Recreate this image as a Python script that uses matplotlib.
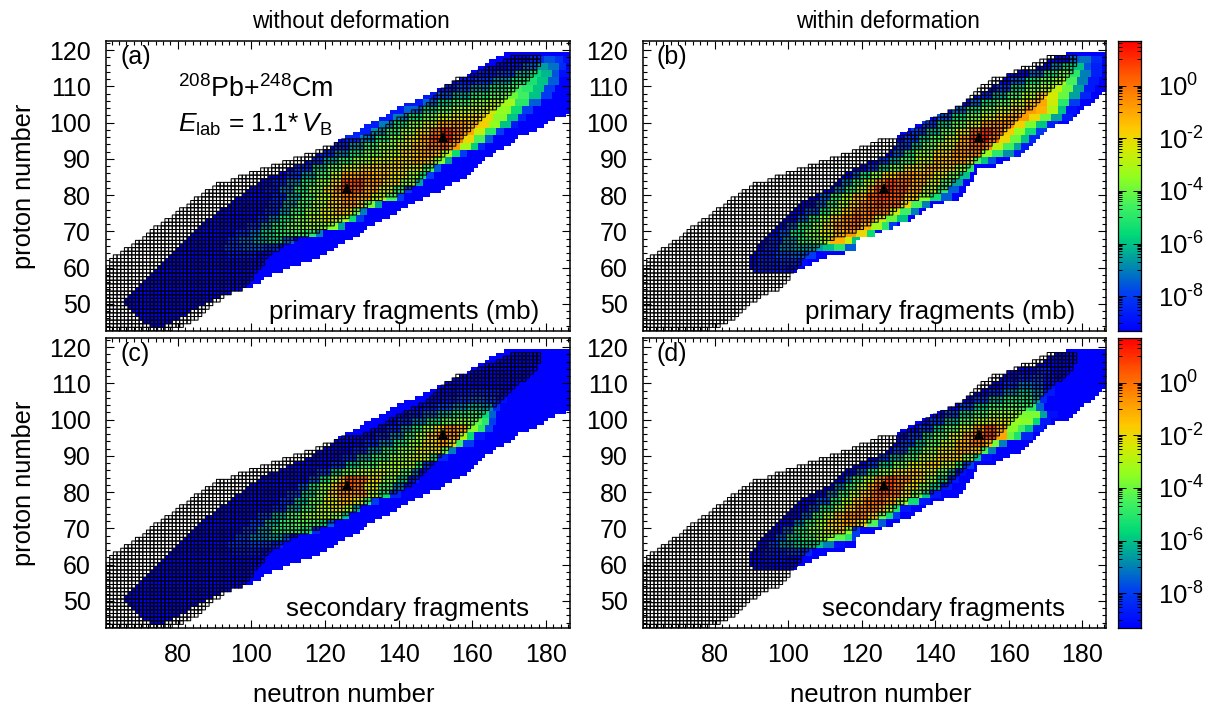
import numpy as np
import matplotlib
matplotlib.use("Agg")
import matplotlib.pyplot as plt
from matplotlib.colors import LinearSegmentedColormap, LogNorm
from matplotlib.collections import PolyCollection
from matplotlib.ticker import FixedLocator, FixedFormatter, MultipleLocator, NullFormatter

plt.rcParams['font.family'] = ['Liberation Sans', 'DejaVu Sans']
plt.rcParams['mathtext.fontset'] = 'custom'
plt.rcParams['mathtext.rm'] = 'Liberation Sans'
plt.rcParams['mathtext.it'] = 'Liberation Sans:italic'
plt.rcParams['mathtext.default'] = 'regular'

# edges of the black mesh, same in all panels, proton number 43..118
mesh_lo = [60]*17 + [61,62,62,63,65,66,68,69,71,72,73,74,76,77,79,80,81,83,84,85,87,88,90,91,95,97,100,103,106,109,
           112,115,118,120,123,125,131,133,135,137,138,140,142,144,146,148,149,150,151,152,153,155,156,160,162,
           164,167,169,171,172,175]
mesh_hi = [78,81,83,85,86,87,88,89,91,92,94,97,98,99,100,100,101,102,103,103,104,105,107,108,110,112,115,118,120,122,
           124,126,128,129,131,132,135,139,141,143,144,145,146,147,148,149,150,151,152,153,154,155,156,157,158,
           159,160,161,162,163,164,166,167,168,169,170,171,172,174,175,176,177,177,178,178,178]

# edges of the coloured area, proton number 44..119 for left panels
left_lo = [73,71,70,69,68,67,66,66,67,68,69,70,71,72,73,74,75,76,77,78,79,80,81,82,83,84,85,86,87,88,90,91,92,94,95,
           96,98,99,100,102,103,105,108,110,112,115,117,118,120,122,123,124,126,128,130,131,133,135,137,138,140,
           142,145,147,149,151,153,155,157,159,160,162,164,165,167,169]
left_hi = [76,78,80,82,83,85,87,89,91,94,97,100,102,103,105,108,110,113,116,118,120,122,123,125,127,129,130,131,133,
           135,137,139,140,142,144,146,148,151,152,154,156,158,159,160,161,162,163,165,166,168,170,171,172,175,177,
           179,180,182,185] + [187]*17

# same for right panels, proton number 59..119
right_lo = [91,90,90,90,90,91,92,92,93,94,95,96,97,98,99,100,101,102,103,104,106,108,110,112,113,114,115,116,118,120,
            122,125,127,128,129,130,130,130,131,133,135,137,139,141,144,146,148,149,151,153,155,156,158,159,160,
            163,168,170,171,173,176]
right_hi = [102,104,106,108,110,115,118,118,118,119,123,125,128,130,133,134,136,137,139,142,146,147,148,148,149,150,
            150,151,151,156,158,160,163,164,165,166,167,168,169,170,172,176,177,178,179,180,182,183,184,185,186] + [187]*10

# log10 of the cross section along a row: start neutron number, value, start, value...
rows_a = {
    63: [94,-8.8,102,-9.3],
    65: [93,-8.2,98,-7.6,104,-8.2,108,-9.3],
    67: [94,-8.2,97,-7.4,101,-6.6,105,-6,109,-7.5,112,-9.3],
    69: [96,-8.3,100,-7.2,103,-6,107,-5,111,-4.6,115,-5,118,-7,120,-9.3],
    71: [99,-8.3,103,-6.8,106,-5.4,110,-4.2,114,-3.6,118,-3.6,121,-3.6,124,-6.5,126,-9.3],
    73: [102,-8.4,105,-7,108,-5.4,112,-4,116,-3,120,-2.4,124,-3,127,-5.5,129,-8,131,-9.3],
    75: [104,-8.4,108,-6.8,111,-5,115,-3.6,119,-2.4,123,-1.4,126,-2,128,-4,130,-7,132,-9.3],
    77: [105,-8.4,109,-6.6,113,-4.8,117,-3.2,121,-1.8,125,-0.8,129,-1.8,131,-3.8,134,-6.5,136,-9.3],
    79: [106,-8.4,110,-6.5,114,-4.6,118,-3,122,-1.4,125,-0.3,129,-1,133,-2.8,137,-4.5,140,-8,142,-9.3],
    81: [104,-8.8,108,-7.2,112,-5.4,116,-3.8,120,-2,123,-0.6,125,0.8,128,0.4,131,-1,135,-2.6,139,-5,142,-8,144,-9.3],
    83: [106,-8.6,110,-7,114,-5.2,118,-3.6,122,-1.8,125,0.6,128,0.8,131,-0.6,136,-2,141,-3.6,145,-6.5,147,-9.3],
    85: [110,-8.2,114,-6.6,118,-4.6,122,-2.8,125,-1,129,-0.8,133,-1.4,138,-2.2,143,-3.4,146,-5.5,148,-8,150,-9.3],
    87: [112,-8.3,117,-6,121,-4.2,125,-2.6,130,-1.8,136,-1.8,142,-2.4,147,-4.5,150,-7.5,152,-9.3],
    89: [116,-8.3,120,-6.5,124,-5,128,-3.6,133,-2.6,139,-2,144,-1.4,148,-1.8,150,-3.6,153,-6.5,155,-9.3],
    91: [119,-8.5,123,-7,127,-5.5,131,-4,136,-3,141,-1.8,146,-1,150,-1.6,152,-3,155,-5.5,157,-8,159,-9.3],
    93: [123,-8.5,127,-6.8,131,-5,135,-3.6,140,-2.4,144,-1.2,148,-0.2,152,0.3,154,-0.8,157,-3.2,160,-5.8,162,-8.5,164,-9.3],
    95: [126,-8.5,130,-7,134,-5.2,138,-3.8,142,-2.2,146,-0.8,149,0.6,152,1.4,155,-0.2,158,-2,161,-4.5,164,-7.5,166,-9.3],
    97: [128,-8.6,133,-6.8,137,-5,141,-3.4,145,-2,149,-0.2,152,1,155,0,158,-1,161,-2.6,164,-5,167,-8,169,-9.3],
    99: [131,-8.7,135,-7,139,-5.5,143,-3.8,147,-2.4,151,-1,155,-0.8,159,-1.2,162,-1.8,165,-3.5,168,-6,171,-8.8,173,-9.3],
    101: [134,-8.8,139,-7,143,-5.5,147,-4,151,-2.8,155,-2.2,159,-2,163,-2,166,-3.6,170,-6,173,-8.5,175,-9.3],
    103: [138,-8.8,142,-7.4,147,-5.8,151,-4.4,155,-3.2,160,-2.8,164,-2.6,167,-3.5,171,-5.5,174,-8,177,-9.3],
    105: [142,-8.8,147,-7.4,151,-6,155,-4.8,160,-3.8,165,-3,168,-3.2,172,-5,176,-7.5,179,-9.3],
    107: [147,-8.8,151,-7.6,155,-6.4,160,-5.2,165,-4.4,169,-4,173,-4.6,176,-6,179,-8,182,-9.3],
    109: [152,-8.8,156,-7.8,160,-6.8,165,-5.6,170,-4.6,174,-5,177,-6,180,-8,183,-9.3],
    111: [156,-8.8,161,-8,166,-6.8,171,-5.4,175,-5.2,178,-6,181,-7.5,184,-9.3],
    113: [162,-8.8,167,-8,172,-6.4,176,-5.6,179,-6.2,182,-7.6,184,-9],
    115: [170,-8.8,174,-7.5,178,-6.6,181,-7.2,184,-8.4,186,-9.3],
    117: [176,-8.4,180,-7.6,183,-8.2,185,-9],
}

rows_b = {
    59: [91,-8.8,100,-9.3],
    61: [92,-8.7,98,-8.4,103,-9],
    63: [92,-8.7,97,-7.8,101,-7.5,105,-8,108,-9.3],
    65: [94,-8.5,98,-7,102,-6.5,106,-6.5,110,-6,113,-5,116,-7.5],
    67: [95,-8.5,99,-6.8,103,-5,107,-4,110,-3,112,-1.2,116,-2.6,118,-6],
    69: [98,-7.6,101,-5.6,105,-4,109,-2.5,113,-1.2,116,-0.8,119,-2,122,-5.5,124,-9],
    71: [100,-7.5,103,-5.4,107,-3.6,110,-2,113,-0.6,117,0,120,-1.2,123,-3.2,126,-5,128,-8,130,-9.3],
    73: [103,-7.4,106,-5.4,109,-3.4,112,-1.6,115,-0.4,118,0.3,121,-0.4,124,-2.5,127,-4,130,-6,133,-9.3],
    75: [105,-7.6,109,-5.4,112,-3.4,115,-1.6,118,-0.4,122,0.2,125,-0.2,128,-2.6,131,-4.6,134,-7,136,-9.3],
    77: [108,-7.4,111,-5.2,114,-3.2,117,-1.6,120,-0.2,124,0.6,127,0.2,131,-2,134,-4.5,137,-7,139,-9.3],
    79: [109,-7.4,112,-5,115,-3.2,118,-1.4,122,0.4,125,1,128,0.4,132,-1.6,136,-3.6,139,-5.4,142,-7.5,145,-9.3],
    81: [113,-7,116,-5,119,-3,122,-1.2,124,0.6,126,1.2,129,0.6,133,-1,137,-3,141,-5,144,-7.5,147,-9.3],
    83: [115,-7,118,-5,121,-3,124,-0.8,127,0.8,130,0.2,134,-1,138,-2.6,142,-4.6,145,-6.5,148,-9.3],
    85: [118,-7.4,120,-5.6,123,-3.6,126,-1.8,130,-0.8,135,-1.2,140,-2.4,144,-4,147,-6,150,-9.3],
    87: [122,-8,125,-6,128,-4,132,-2,138,-1.2,142,-1.8,146,-3.4,149,-5,151,-9.3],
    89: [125,-8,128,-6.5,131,-4.6,135,-2.8,140,-1.4,145,-1,149,-2,151,-4.4,153,-6,155,-7.6,157,-9.3],
    91: [129,-7.4,132,-5.4,135,-3.6,140,-1.8,145,-0.6,150,-0.6,153,-3.4,156,-5,159,-6.8,162,-8.8],
    93: [130,-8,134,-6.2,137,-4.2,141,-2.6,146,-0.8,150,0.2,154,-0.8,156,-2.8,159,-4.6,162,-6.5,164,-8.8],
    95: [132,-8,136,-6,139,-4.4,143,-2.6,147,-0.8,150,0.8,153,1.4,155,0,158,-2,161,-4,164,-6,166,-8.5],
    97: [134,-8,138,-6.2,142,-4.2,146,-2.2,150,0,153,1,156,0,159,-1.6,162,-3.4,165,-5.4,168,-8],
    99: [137,-8,141,-6,145,-4.2,149,-2.6,153,-0.8,156,-0.6,159,-0.6,162,-1.8,165,-3.8,168,-6,171,-8.6],
    101: [141,-7.6,145,-5.6,149,-4,153,-2.6,157,-1.6,160,-1,163,-0.8,166,-2,169,-4,172,-6.5,175,-8.8],
    103: [145,-7.4,149,-5.6,153,-4,157,-2.8,161,-1.8,165,-0.8,168,-1.2,171,-3,174,-6,176,-9],
    105: [150,-7.4,153,-5.6,157,-4.4,161,-2.8,165,-1.6,168,-1,171,-2.6,174,-5,177,-8],
    107: [152,-8.5,156,-6.5,160,-4.8,164,-3.2,168,-1.6,171,-2.4,174,-4,177,-6.5,180,-8.5],
    109: [157,-8,161,-6,165,-4,169,-3,172,-2.8,175,-4,178,-6.5,181,-8.8],
    111: [161,-7.5,165,-5.5,169,-4.2,173,-3.2,176,-4.5,179,-7,182,-8.8],
    113: [166,-7.4,170,-5.4,174,-4,177,-5,180,-7,183,-8.6],
    115: [172,-7,175,-5.8,178,-6,181,-7.6,183,-8.6],
    117: [177,-7.4,180,-7.2,183,-8.4],
}

rows_c = {
    63: [95,-8.8,103,-9.3],
    65: [94,-8.4,100,-8,106,-8.6,109,-9.3],
    67: [96,-8,100,-7,105,-6.6,109,-7.6,111,-9.3],
    69: [98,-8,102,-6.8,106,-5.4,110,-5,114,-5.6,117,-8.5,119,-9.3],
    71: [100,-8,104,-6.4,108,-5,112,-4.4,116,-4.6,119,-5.6,121,-7.5,123,-9.3],
    73: [102,-8,106,-6.4,110,-4.8,114,-3.6,118,-3.2,122,-3.6,125,-6,127,-9.3],
    75: [106,-8.4,110,-6.5,114,-4.8,118,-3,122,-2.2,126,-3.4,128,-6.5,130,-9.3],
    77: [108,-8.2,112,-6.2,116,-4.2,120,-2.4,124,-1.4,128,-2.4,131,-5,133,-8,135,-9.3],
    79: [110,-8,114,-6,118,-3.8,121,-1.8,124,-0.6,128,-0.8,132,-3,135,-5.5,138,-8.5],
    81: [113,-7.6,116,-5.6,119,-3.6,122,-1.8,124,-0.2,126,0.6,128,0,131,-2.4,135,-4.6,139,-7,142,-9.3],
    83: [116,-7.6,119,-5.4,122,-3.2,124,-1.4,126,0.4,129,0,132,-2,136,-3.8,140,-6,143,-8.8],
    85: [118,-8,122,-6,125,-4,129,-3,133,-2.6,137,-3.2,141,-4.6,144,-7,146,-9.3],
    87: [122,-8.2,126,-6,130,-4.6,135,-3.4,140,-3.2,145,-5,147,-8,149,-9.3],
    89: [125,-8.4,129,-6.5,133,-5,138,-3.6,143,-2.8,147,-3,149,-5.4,151,-8.5],
    91: [128,-8.4,132,-6.8,136,-5.2,140,-3.8,145,-2.4,149,-2.2,152,-4,154,-7,156,-9.3],
    93: [131,-8.5,135,-7,139,-5.2,143,-3.6,147,-2,151,-1,154,-2,156,-4.6,158,-8],
    95: [134,-8.5,138,-7,142,-5.2,145,-3.4,148,-1.6,151,0,154,-0.6,157,-3,159,-5.6,161,-8.8],
    97: [137,-8.5,141,-6.8,144,-5.2,147,-3.4,150,-1.8,153,-0.4,156,-1,159,-3.6,162,-5,164,-7.8,166,-9.3],
    99: [140,-8.5,144,-7,148,-5.6,152,-4.2,156,-3.6,160,-4.2,163,-5,165,-8,167,-9.3],
    101: [143,-8.7,147,-7.4,151,-6.4,155,-5.4,159,-5,162,-5.5,165,-7.4,167,-9.3],
    103: [147,-8.8,151,-7.8,155,-7,159,-6.4,163,-6.8,166,-8.4,168,-9.3],
    105: [152,-8.8,156,-8.2,160,-7.6,164,-8,167,-9],
    107: [156,-8.9,160,-8.5,165,-8.7,168,-9.3],
}

rows_d = {
    61: [94,-9,100,-9.3],
    63: [94,-8.6,100,-8,104,-8.5,107,-9.3],
    65: [95,-8,98,-6.8,102,-6,106,-6,110,-7,113,-9],
    67: [97,-7.6,100,-6,104,-4.8,108,-3.6,111,-3.4,113,-4.2,116,-5,118,-8],
    69: [99,-7.4,102,-5.4,106,-3.8,110,-2.4,113,-1.8,116,-3.6,118,-8,120,-9.3],
    71: [102,-7,105,-5,108,-3.4,111,-1.8,115,-1,119,-2,122,-4.4,125,-7.5,127,-9.3],
    73: [104,-7.4,107,-5,110,-3.2,113,-1.4,116,-0.4,119,-0.2,122,-1.6,125,-4,127,-5.4,129,-8,131,-9.3],
    75: [106,-7.6,109,-5.4,113,-3.2,116,-1.6,119,-0.4,122,-0.2,125,-1.2,127,-3,129,-5.2,131,-8.8],
    77: [108,-7.6,112,-5.2,115,-3.2,118,-1.6,121,-0.2,124,0.2,127,-1,130,-3.2,133,-5.4,136,-8.8],
    79: [111,-7,114,-5,117,-3,120,-1.4,123,0,125,0.6,128,0,131,-2,134,-4,137,-6,139,-8.8],
    81: [113,-7,116,-5,119,-3,122,-1.2,124,0.2,126,0.9,129,0,132,-2,136,-4,139,-6,142,-8.8],
    83: [116,-7,118,-5,121,-3,124,-0.8,127,0.6,130,-0.4,134,-1.8,138,-3.6,141,-6,144,-8.8],
    85: [119,-7.4,122,-5.4,125,-3.6,129,-2,133,-1.6,137,-2.4,141,-4.2,144,-6.4,146,-9],
    87: [122,-8,125,-6,129,-4,133,-2.4,138,-1.8,142,-2.8,146,-5,148,-8],
    89: [125,-8,128,-6.4,132,-4.6,136,-2.8,141,-1.8,145,-1.8,148,-3.6,151,-6,153,-9],
    91: [129,-7.8,133,-5.8,137,-3.8,141,-2.2,146,-1.2,150,-1.6,153,-4.5,155,-7,157,-9.3],
    93: [131,-8,135,-6.2,138,-4.4,142,-2.8,146,-1.2,150,-0.2,154,-1.4,156,-3.8,158,-7,160,-9.3],
    95: [133,-8,137,-6,140,-4.4,144,-2.6,148,-1,151,0.4,154,0.8,157,-1,160,-4,162,-5.2,164,-8.5],
    97: [136,-8,140,-6,143,-4.4,147,-2.6,151,-0.6,154,0.6,157,-1,160,-3.6,163,-4.6,165,-6,167,-8.8],
    99: [139,-8,143,-6.2,147,-4.4,151,-3,155,-2.2,158,-2.4,161,-3.4,164,-3.6,167,-5.6,169,-8.8],
    101: [143,-7.8,147,-6,151,-4.6,155,-3.6,159,-3.4,163,-3.8,166,-3.8,169,-6.5,171,-9],
    103: [147,-7.8,151,-6,155,-4.8,159,-4.4,163,-4.6,166,-5,168,-7.4,170,-9.3],
    105: [151,-8,155,-6.4,159,-5.4,163,-5.4,167,-6.6,169,-8.5,171,-9.3],
    107: [155,-8.4,159,-7,163,-6.2,167,-7,170,-8.8],
    109: [159,-8.4,163,-7.2,167,-7.6,170,-9],
    111: [163,-8.6,167,-8,170,-9],
    113: [168,-8.6,172,-9.3],
}

peak_n = [126, 152]
peak_z = [82, 96]
x_ticks = [80, 100, 120, 140, 160, 180]
y_ticks = [50, 60, 70, 80, 90, 100, 110, 120]
cbar_decades = [0, -2, -4, -6, -8]
panel_names = ['(a)', '(b)', '(c)', '(d)']
panel_notes = ['primary fragments (mb)', 'primary fragments (mb)', 'secondary fragments', 'secondary fragments']
col_titles = ['without deformation', 'within deformation']

W, H = 1209, 705
VMIN, VMAX = 10**-9.32, 10**1.69
cmap = LinearSegmentedColormap.from_list('frag', [
    (0.000, '#0000ff'), (0.130, '#0040f0'), (0.230, '#0090a8'), (0.330, '#00d878'),
    (0.430, '#40f060'), (0.530, '#90ff20'), (0.630, '#d8e800'), (0.700, '#ffc800'),
    (0.800, '#ff8c00'), (0.880, '#ff5c00'), (1.000, '#ff0000')])
norm = LogNorm(VMIN, VMAX)


def px_axes(fig, x0, y0, x1, y1):
    return fig.add_axes([x0/W, 1 - y1/H, (x1 - x0)/W, (y1 - y0)/H])


def make_grid(rows, z_start, lo, hi):
    n = np.arange(60, 188)
    z = np.arange(43, 121)
    grid = np.full((len(z), len(n)), np.nan)
    for i, (a, b) in enumerate(zip(lo, hi)):
        zz = z_start + i
        j = (n >= a) & (n <= b)
        grid[zz - 43, j] = -9.3
    for zz, seg in rows.items():
        for k in range(0, len(seg), 2):
            stop = seg[k + 2] if k + 2 < len(seg) else seg[k] + 3
            for r in (zz, zz + 1):
                j = (n >= seg[k]) & (n < stop) & ~np.isnan(grid[r - 43])
                grid[r - 43, j] = seg[k + 1]
    return n, z, grid


def mesh_cells():
    cells = []
    for i, (a, b) in enumerate(zip(mesh_lo, mesh_hi)):
        zz = 43 + i
        for nn in range(a, b + 1):
            cells.append([(nn-.5, zz-.5), (nn+.5, zz-.5), (nn+.5, zz+.5), (nn-.5, zz+.5)])
    return cells


def style_axes(ax):
    for s in ax.spines.values():
        s.set_linewidth(1.1)
    ax.set_xlim(60.5, 186.5)
    ax.set_ylim(42.5, 122.5)
    ax.xaxis.set_major_locator(FixedLocator(x_ticks))
    ax.yaxis.set_major_locator(FixedLocator(y_ticks))
    ax.xaxis.set_minor_locator(MultipleLocator(2))
    ax.yaxis.set_minor_locator(MultipleLocator(2))
    ax.tick_params(which='both', direction='in', top=True, right=True, width=0.8, labelsize=18)
    ax.tick_params(which='major', length=5.5)
    ax.tick_params(which='minor', length=2.8)
    ax.tick_params(axis='x', which='major', pad=11)
    ax.tick_params(axis='y', which='major', pad=11)


fig = plt.figure(figsize=(W/100, H/100), dpi=100)
lefts = [(106, 570), (643, 1106)]
tops = [(41, 331), (338, 628)]
all_rows = [rows_a, rows_b, rows_c, rows_d]

for p in range(4):
    col, row = p % 2, p // 2
    ax = px_axes(fig, lefts[col][0], tops[row][0], lefts[col][1], tops[row][1])
    if col == 0:
        n, z, grid = make_grid(all_rows[p], 44, left_lo, left_hi)
    else:
        n, z, grid = make_grid(all_rows[p], 59, right_lo, right_hi)
    ax.pcolormesh(np.append(n, 188) - .5, np.append(z, 121) - .5, np.ma.masked_invalid(10.0**grid),
                  cmap=cmap, norm=norm, linewidth=0, rasterized=True)
    mesh = PolyCollection(mesh_cells(), facecolors='none', edgecolors='black', linewidths=0.75)
    mesh.set_snap(False)
    ax.add_collection(mesh)
    ax.plot(peak_n, peak_z, '^', color='black', ms=7, mew=0)
    style_axes(ax)
    if row == 0:
        ax.tick_params(labelbottom=False)
        ax.set_title(col_titles[col], fontsize=16.3, pad=9, x=0.5 + 13/464)
    else:
        ax.set_xlabel('neutron number', fontsize=18.5, labelpad=11, x=0.5 + 6/464)
    if col == 0:
        ax.set_ylabel('proton number', fontsize=18.3, labelpad=9)
    ax.text(14/464, 0.945, panel_names[p], transform=ax.transAxes, fontsize=18, ha='left', va='center')
    note_x = 433/464 if p < 2 else 423/464
    ax.text(note_x, 0.065, panel_notes[p], transform=ax.transAxes, fontsize=18.7, ha='right', va='center')
    if p == 0:
        ax.text(72/464, 0.835, r'$^{208}$Pb+$^{248}$Cm', transform=ax.transAxes, fontsize=19.4, ha='left', va='center')
        ax.text(72/464, 0.71, r'$\mathit{E}_{lab}$ = 1.1*$\,\mathit{V}_{B}$', transform=ax.transAxes,
                fontsize=19, ha='left', va='center')

    if col == 1:
        cax = px_axes(fig, 1118, tops[row][0], 1141, tops[row][1])
        bar = np.logspace(np.log10(VMIN), np.log10(VMAX), 256).reshape(-1, 1)
        cax.pcolormesh([0, 1], np.logspace(np.log10(VMIN), np.log10(VMAX), 257), bar, cmap=cmap, norm=norm)
        cax.set_yscale('log')
        cax.set_ylim(VMIN, VMAX)
        cax.set_xticks([])
        cax.yaxis.set_major_locator(FixedLocator([10.0**d for d in cbar_decades]))
        cax.yaxis.set_major_formatter(FixedFormatter(['10$^{%s}$' % (r'\text{%d}' % d) for d in cbar_decades]))
        minors = [k*10.0**e for e in (-9, -7, -5, -3, -1, 1) for k in range(1, 10)]
        minors = [m for m in minors if VMIN < m < VMAX]
        cax.yaxis.set_minor_locator(FixedLocator(minors))
        cax.yaxis.set_minor_formatter(NullFormatter())
        cax.tick_params(which='both', axis='y', direction='in', left=True, right=True, labelleft=False,
                        labelright=True, labelsize=18.5, width=0.7, pad=12)
        cax.tick_params(which='major', axis='y', length=5.5)
        cax.tick_params(which='minor', axis='y', length=3)
        for s in cax.spines.values():
            s.set_linewidth(0.9)

fig.savefig('out.png', dpi=100)
